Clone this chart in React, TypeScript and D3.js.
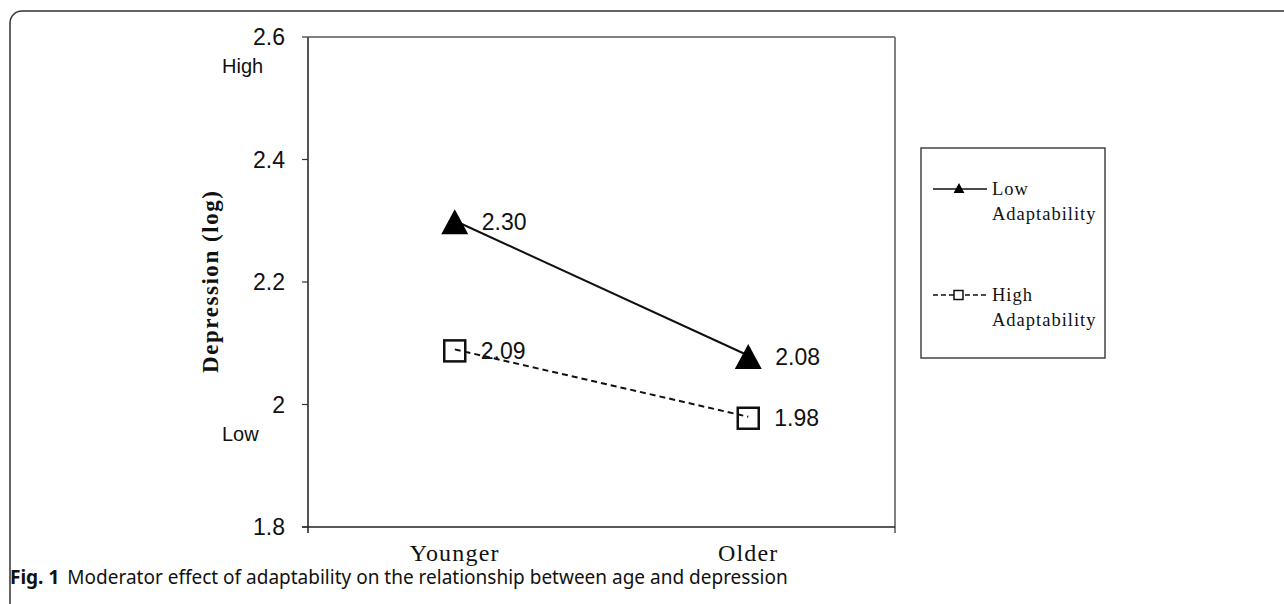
import React from "react";
import * as d3 from "d3";

// data
const ageGroups = ["Younger", "Older"];
const lowAdaptability = [2.3, 2.08];
const highAdaptability = [2.09, 1.98];
const lowLabels = ["2.30", "2.08"];
const highLabels = ["2.09", "1.98"];
const yTicks = [1.8, 2, 2.2, 2.4, 2.6];
const legendNames = ["Low Adaptability", "High Adaptability"];

const W = 1284;
const H = 604;
const plot = { left: 308, top: 37, right: 895, bottom: 527 };

const sans = "'Liberation Sans', Arial, sans-serif";
const serif = "'Liberation Serif', 'Times New Roman', serif";

const App: React.FC = () => {
    const x = d3
        .scaleBand<string>()
        .domain(ageGroups)
        .range([plot.left, plot.right]);
    const y = d3
        .scaleLinear()
        .domain([1.8, 2.6])
        .range([plot.bottom, plot.top]);

    const cx = (i: number) => (x(ageGroups[i]) as number) + x.bandwidth() / 2;

    const lineGen = d3
        .line<number>()
        .x((d, i) => cx(i))
        .y(d => y(d));

    const tri = (s: number) =>
        `M0,${-s}L${s * 1.08},${s}L${-s * 1.08},${s}Z`;

    return (
        <div style={{ position: "absolute", left: 0, top: 0 }}>
            <svg width={W} height={H} style={{ display: "block" }}>
                <rect width={W} height={H} fill="#fff" />
                {/* outer figure frame */}
                <rect
                    x={10}
                    y={11}
                    width={1320}
                    height={640}
                    rx={12}
                    fill="none"
                    stroke="#333"
                    strokeWidth={1.5}
                />

                {/* plot frame */}
                <line x1={plot.left} x2={plot.right} y1={plot.top} y2={plot.top} stroke="#808080" strokeWidth={2} />
                <line x1={plot.right} x2={plot.right} y1={plot.top} y2={plot.bottom + 6} stroke="#808080" strokeWidth={2} />
                <line x1={plot.left} x2={plot.left} y1={plot.top} y2={plot.bottom + 6} stroke="#555" strokeWidth={2} />
                <line x1={plot.left - 6} x2={plot.right} y1={plot.bottom} y2={plot.bottom} stroke="#222" strokeWidth={1.5} />

                {/* y ticks */}
                {yTicks.map(t => (
                    <g key={t}>
                        <line x1={plot.left - 6} x2={plot.left} y1={y(t)} y2={y(t)} stroke="#333" strokeWidth={1.2} />
                        <text
                            x={285}
                            y={y(t)}
                            dy="0.35em"
                            textAnchor="end"
                            fontFamily={sans}
                            fontSize={23}
                            fill="#111"
                        >
                            {t === 2 ? "2" : t.toFixed(1)}
                        </text>
                    </g>
                ))}

                <text x={222} y={73} fontFamily={sans} fontSize={20} fill="#111">High</text>
                <text x={222} y={441} fontFamily={sans} fontSize={20} fill="#111">Low</text>

                {/* y axis title */}
                <text
                    transform={`translate(218,${(plot.top + plot.bottom) / 2}) rotate(-90)`}
                    textAnchor="middle"
                    fontFamily={serif}
                    fontWeight="bold"
                    fontSize={23}
                    textLength={182}
                    lengthAdjust="spacing"
                    fill="#111"
                >
                    Depression (log)
                </text>

                {/* x labels */}
                {ageGroups.map((g, i) => (
                    <text
                        key={g}
                        x={cx(i)}
                        y={561}
                        textAnchor="middle"
                        fontFamily={serif}
                        fontSize={24}
                        letterSpacing={1.2}
                        fill="#111"
                    >
                        {g}
                    </text>
                ))}

                {/* series lines */}
                <path d={lineGen(lowAdaptability) || ""} fill="none" stroke="#111" strokeWidth={2} />
                <path d={lineGen(highAdaptability) || ""} fill="none" stroke="#111" strokeWidth={2} strokeDasharray="6,4" />

                {/* markers */}
                {lowAdaptability.map((v, i) => (
                    <g key={"l" + i}>
                        <path d={tri(12.5)} transform={`translate(${cx(i)},${y(v) + 1})`} fill="#000" />
                        <text x={cx(i) + 27} y={y(v) + 1} dy="0.35em" fontFamily={sans} fontSize={23} fill="#111">
                            {lowLabels[i]}
                        </text>
                    </g>
                ))}
                {highAdaptability.map((v, i) => (
                    <g key={"h" + i}>
                        <rect x={cx(i) - 10.5} y={y(v) - 9} width={21} height={21} fill="none" stroke="#111" strokeWidth={2.5} />
                        <text x={cx(i) + 26} y={y(v) + 1.5} dy="0.35em" fontFamily={sans} fontSize={23} fill="#111">
                            {highLabels[i]}
                        </text>
                    </g>
                ))}

                {/* legend */}
                <rect x={921} y={148} width={184} height={210} fill="none" stroke="#444" strokeWidth={1.5} />
                {legendNames.map((name, i) => {
                    const ly = i === 0 ? 189 : 295;
                    const parts = name.split(" ");
                    return (
                        <g key={name}>
                            <line x1={933} x2={987} y1={ly} y2={ly} stroke="#111" strokeWidth={1.5} strokeDasharray={i === 0 ? undefined : "5,3"} />
                            {i === 0 ? (
                                <path d={tri(5)} transform={`translate(959,${ly - 1})`} fill="#000" />
                            ) : (
                                <rect x={954} y={ly - 4.5} width={9} height={9} fill="#fff" stroke="#111" strokeWidth={1.5} />
                            )}
                            <text fontFamily={serif} fontSize={18.5} letterSpacing={1} fill="#111">
                                <tspan x={992} y={ly + 6}>{parts[0]}</tspan>
                                <tspan x={992} y={ly + 31}>{parts[1]}</tspan>
                            </text>
                        </g>
                    );
                })}

                {/* caption */}
                <text x={10} y={584} fontFamily="'Noto Sans', sans-serif" fontSize={19} fill="#111">
                    <tspan fontWeight="bold">Fig. 1</tspan>
                    <tspan dx={8}>Moderator effect of adaptability on the relationship between age and depression</tspan>
                </text>
            </svg>
        </div>
    );
};

export default App;
